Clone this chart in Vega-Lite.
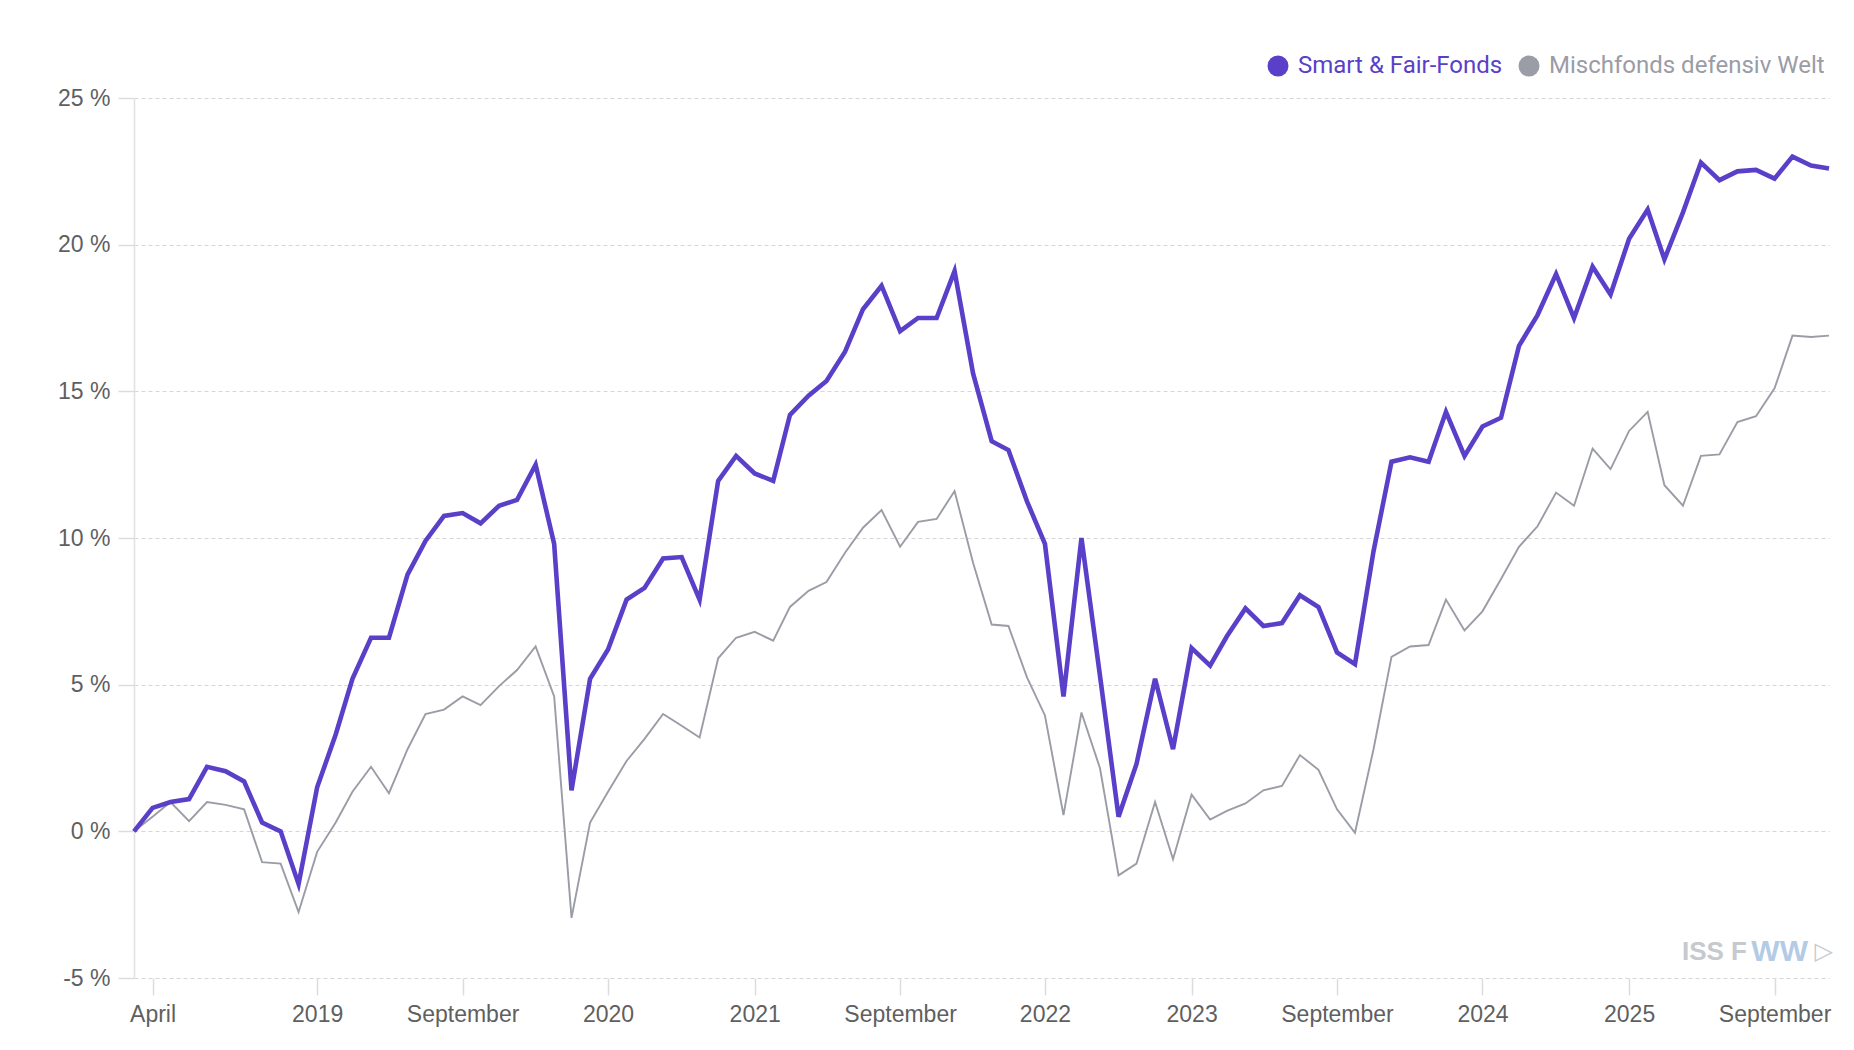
{
  "$schema": "https://vega.github.io/schema/vega-lite/v6.json",
  "width": 1695,
  "height": 880,
  "autosize": {"type": "none"},
  "padding": {"left": 134, "top": 98, "right": 25, "bottom": 72},
  "background": "white",
  "config": {"view": {"stroke": null}, "font": "Liberation Sans"},
  "data": {"values": [
    {"d":"2018-03-01","Smart & Fair-Fonds":0,"Mischfonds defensiv Welt":0},
    {"d":"2018-04-01","Smart & Fair-Fonds":0.8,"Mischfonds defensiv Welt":0.5},
    {"d":"2018-05-01","Smart & Fair-Fonds":1.0,"Mischfonds defensiv Welt":1.0},
    {"d":"2018-06-01","Smart & Fair-Fonds":1.1,"Mischfonds defensiv Welt":0.35},
    {"d":"2018-07-01","Smart & Fair-Fonds":2.2,"Mischfonds defensiv Welt":1.0},
    {"d":"2018-08-01","Smart & Fair-Fonds":2.05,"Mischfonds defensiv Welt":0.9},
    {"d":"2018-09-01","Smart & Fair-Fonds":1.7,"Mischfonds defensiv Welt":0.75},
    {"d":"2018-10-01","Smart & Fair-Fonds":0.3,"Mischfonds defensiv Welt":-1.05},
    {"d":"2018-11-01","Smart & Fair-Fonds":0.0,"Mischfonds defensiv Welt":-1.1},
    {"d":"2018-12-01","Smart & Fair-Fonds":-1.8,"Mischfonds defensiv Welt":-2.75},
    {"d":"2019-01-01","Smart & Fair-Fonds":1.5,"Mischfonds defensiv Welt":-0.7},
    {"d":"2019-02-01","Smart & Fair-Fonds":3.3,"Mischfonds defensiv Welt":0.3},
    {"d":"2019-03-01","Smart & Fair-Fonds":5.2,"Mischfonds defensiv Welt":1.35},
    {"d":"2019-04-01","Smart & Fair-Fonds":6.6,"Mischfonds defensiv Welt":2.2},
    {"d":"2019-05-01","Smart & Fair-Fonds":6.6,"Mischfonds defensiv Welt":1.3},
    {"d":"2019-06-01","Smart & Fair-Fonds":8.75,"Mischfonds defensiv Welt":2.8},
    {"d":"2019-07-01","Smart & Fair-Fonds":9.9,"Mischfonds defensiv Welt":4.0},
    {"d":"2019-08-01","Smart & Fair-Fonds":10.75,"Mischfonds defensiv Welt":4.15},
    {"d":"2019-09-01","Smart & Fair-Fonds":10.85,"Mischfonds defensiv Welt":4.6},
    {"d":"2019-10-01","Smart & Fair-Fonds":10.5,"Mischfonds defensiv Welt":4.3},
    {"d":"2019-11-01","Smart & Fair-Fonds":11.1,"Mischfonds defensiv Welt":4.95},
    {"d":"2019-12-01","Smart & Fair-Fonds":11.3,"Mischfonds defensiv Welt":5.5},
    {"d":"2020-01-01","Smart & Fair-Fonds":12.5,"Mischfonds defensiv Welt":6.3},
    {"d":"2020-02-01","Smart & Fair-Fonds":9.8,"Mischfonds defensiv Welt":4.6},
    {"d":"2020-03-01","Smart & Fair-Fonds":1.4,"Mischfonds defensiv Welt":-2.95},
    {"d":"2020-04-01","Smart & Fair-Fonds":5.2,"Mischfonds defensiv Welt":0.3},
    {"d":"2020-05-01","Smart & Fair-Fonds":6.2,"Mischfonds defensiv Welt":1.35},
    {"d":"2020-06-01","Smart & Fair-Fonds":7.9,"Mischfonds defensiv Welt":2.4},
    {"d":"2020-07-01","Smart & Fair-Fonds":8.3,"Mischfonds defensiv Welt":3.15},
    {"d":"2020-08-01","Smart & Fair-Fonds":9.3,"Mischfonds defensiv Welt":4.0},
    {"d":"2020-09-01","Smart & Fair-Fonds":9.35,"Mischfonds defensiv Welt":3.6},
    {"d":"2020-10-01","Smart & Fair-Fonds":7.9,"Mischfonds defensiv Welt":3.2},
    {"d":"2020-11-01","Smart & Fair-Fonds":11.95,"Mischfonds defensiv Welt":5.9},
    {"d":"2020-12-01","Smart & Fair-Fonds":12.8,"Mischfonds defensiv Welt":6.6},
    {"d":"2021-01-01","Smart & Fair-Fonds":12.2,"Mischfonds defensiv Welt":6.8},
    {"d":"2021-02-01","Smart & Fair-Fonds":11.95,"Mischfonds defensiv Welt":6.5},
    {"d":"2021-03-01","Smart & Fair-Fonds":14.2,"Mischfonds defensiv Welt":7.65},
    {"d":"2021-04-01","Smart & Fair-Fonds":14.85,"Mischfonds defensiv Welt":8.2},
    {"d":"2021-05-01","Smart & Fair-Fonds":15.35,"Mischfonds defensiv Welt":8.5},
    {"d":"2021-06-01","Smart & Fair-Fonds":16.35,"Mischfonds defensiv Welt":9.5},
    {"d":"2021-07-01","Smart & Fair-Fonds":17.8,"Mischfonds defensiv Welt":10.35},
    {"d":"2021-08-01","Smart & Fair-Fonds":18.6,"Mischfonds defensiv Welt":10.95},
    {"d":"2021-09-01","Smart & Fair-Fonds":17.05,"Mischfonds defensiv Welt":9.7},
    {"d":"2021-10-01","Smart & Fair-Fonds":17.5,"Mischfonds defensiv Welt":10.55},
    {"d":"2021-11-01","Smart & Fair-Fonds":17.5,"Mischfonds defensiv Welt":10.65},
    {"d":"2021-12-01","Smart & Fair-Fonds":19.1,"Mischfonds defensiv Welt":11.6},
    {"d":"2022-01-01","Smart & Fair-Fonds":15.6,"Mischfonds defensiv Welt":9.15},
    {"d":"2022-02-01","Smart & Fair-Fonds":13.3,"Mischfonds defensiv Welt":7.05},
    {"d":"2022-03-01","Smart & Fair-Fonds":13.0,"Mischfonds defensiv Welt":7.0},
    {"d":"2022-04-01","Smart & Fair-Fonds":11.25,"Mischfonds defensiv Welt":5.25},
    {"d":"2022-05-01","Smart & Fair-Fonds":9.8,"Mischfonds defensiv Welt":3.95},
    {"d":"2022-06-01","Smart & Fair-Fonds":4.6,"Mischfonds defensiv Welt":0.55},
    {"d":"2022-07-01","Smart & Fair-Fonds":10.0,"Mischfonds defensiv Welt":4.05},
    {"d":"2022-08-01","Smart & Fair-Fonds":5.3,"Mischfonds defensiv Welt":2.15},
    {"d":"2022-09-01","Smart & Fair-Fonds":0.5,"Mischfonds defensiv Welt":-1.5},
    {"d":"2022-10-01","Smart & Fair-Fonds":2.3,"Mischfonds defensiv Welt":-1.1},
    {"d":"2022-11-01","Smart & Fair-Fonds":5.2,"Mischfonds defensiv Welt":1.0},
    {"d":"2022-12-01","Smart & Fair-Fonds":2.8,"Mischfonds defensiv Welt":-0.95},
    {"d":"2023-01-01","Smart & Fair-Fonds":6.25,"Mischfonds defensiv Welt":1.25},
    {"d":"2023-02-01","Smart & Fair-Fonds":5.65,"Mischfonds defensiv Welt":0.4},
    {"d":"2023-03-01","Smart & Fair-Fonds":6.65,"Mischfonds defensiv Welt":0.7},
    {"d":"2023-04-01","Smart & Fair-Fonds":7.6,"Mischfonds defensiv Welt":0.95},
    {"d":"2023-05-01","Smart & Fair-Fonds":7.0,"Mischfonds defensiv Welt":1.4},
    {"d":"2023-06-01","Smart & Fair-Fonds":7.1,"Mischfonds defensiv Welt":1.55},
    {"d":"2023-07-01","Smart & Fair-Fonds":8.05,"Mischfonds defensiv Welt":2.6},
    {"d":"2023-08-01","Smart & Fair-Fonds":7.65,"Mischfonds defensiv Welt":2.1},
    {"d":"2023-09-01","Smart & Fair-Fonds":6.1,"Mischfonds defensiv Welt":0.75},
    {"d":"2023-10-01","Smart & Fair-Fonds":5.7,"Mischfonds defensiv Welt":-0.05},
    {"d":"2023-11-01","Smart & Fair-Fonds":9.55,"Mischfonds defensiv Welt":2.8},
    {"d":"2023-12-01","Smart & Fair-Fonds":12.6,"Mischfonds defensiv Welt":5.95},
    {"d":"2024-01-01","Smart & Fair-Fonds":12.75,"Mischfonds defensiv Welt":6.3},
    {"d":"2024-02-01","Smart & Fair-Fonds":12.6,"Mischfonds defensiv Welt":6.35},
    {"d":"2024-03-01","Smart & Fair-Fonds":14.3,"Mischfonds defensiv Welt":7.9},
    {"d":"2024-04-01","Smart & Fair-Fonds":12.8,"Mischfonds defensiv Welt":6.85},
    {"d":"2024-05-01","Smart & Fair-Fonds":13.8,"Mischfonds defensiv Welt":7.5},
    {"d":"2024-06-01","Smart & Fair-Fonds":14.1,"Mischfonds defensiv Welt":8.6},
    {"d":"2024-07-01","Smart & Fair-Fonds":16.55,"Mischfonds defensiv Welt":9.7},
    {"d":"2024-08-01","Smart & Fair-Fonds":17.6,"Mischfonds defensiv Welt":10.4},
    {"d":"2024-09-01","Smart & Fair-Fonds":19.0,"Mischfonds defensiv Welt":11.55},
    {"d":"2024-10-01","Smart & Fair-Fonds":17.5,"Mischfonds defensiv Welt":11.1},
    {"d":"2024-11-01","Smart & Fair-Fonds":19.25,"Mischfonds defensiv Welt":13.05},
    {"d":"2024-12-01","Smart & Fair-Fonds":18.3,"Mischfonds defensiv Welt":12.35},
    {"d":"2025-01-01","Smart & Fair-Fonds":20.2,"Mischfonds defensiv Welt":13.65},
    {"d":"2025-02-01","Smart & Fair-Fonds":21.2,"Mischfonds defensiv Welt":14.3},
    {"d":"2025-03-01","Smart & Fair-Fonds":19.5,"Mischfonds defensiv Welt":11.8},
    {"d":"2025-04-01","Smart & Fair-Fonds":21.1,"Mischfonds defensiv Welt":11.1},
    {"d":"2025-05-01","Smart & Fair-Fonds":22.8,"Mischfonds defensiv Welt":12.8},
    {"d":"2025-06-01","Smart & Fair-Fonds":22.2,"Mischfonds defensiv Welt":12.85},
    {"d":"2025-07-01","Smart & Fair-Fonds":22.5,"Mischfonds defensiv Welt":13.95},
    {"d":"2025-08-01","Smart & Fair-Fonds":22.55,"Mischfonds defensiv Welt":14.15},
    {"d":"2025-09-01","Smart & Fair-Fonds":22.25,"Mischfonds defensiv Welt":15.1},
    {"d":"2025-10-01","Smart & Fair-Fonds":23.0,"Mischfonds defensiv Welt":16.9},
    {"d":"2025-11-01","Smart & Fair-Fonds":22.7,"Mischfonds defensiv Welt":16.85},
    {"d":"2025-12-01","Smart & Fair-Fonds":22.6,"Mischfonds defensiv Welt":16.9}
  ]},
  "layer": [
    {
      "transform": [
        {"fold": ["Smart & Fair-Fonds", "Mischfonds defensiv Welt"], "as": ["series", "value"]}
      ],
      "encoding": {
        "x": {
          "field": "d", "type": "temporal",
          "scale": {"type": "utc", "nice": false, "padding": 0},
          "axis": {
            "orient": "bottom",
            "title": null,
            "values": [
              {"year": 2018, "month": 4, "date": 1, "utc": true},
              {"year": 2019, "month": 1, "date": 1, "utc": true},
              {"year": 2019, "month": 9, "date": 1, "utc": true},
              {"year": 2020, "month": 5, "date": 1, "utc": true},
              {"year": 2021, "month": 1, "date": 1, "utc": true},
              {"year": 2021, "month": 9, "date": 1, "utc": true},
              {"year": 2022, "month": 5, "date": 1, "utc": true},
              {"year": 2023, "month": 1, "date": 1, "utc": true},
              {"year": 2023, "month": 9, "date": 1, "utc": true},
              {"year": 2024, "month": 5, "date": 1, "utc": true},
              {"year": 2025, "month": 1, "date": 1, "utc": true},
              {"year": 2025, "month": 9, "date": 1, "utc": true}
            ],
            "labelExpr": "utcmonth(datum.value) == 3 ? 'April' : (utcmonth(datum.value) == 8 ? 'September' : utcFormat(datum.value, '%Y'))",
            "domain": false,
            "grid": false,
            "ticks": true,
            "tickColor": "#dcdcdc",
            "tickSize": 17,
            "tickWidth": 1.5,
            "labelFont": "Liberation Sans",
            "labelFontSize": 23,
            "labelColor": "#5f5f5f",
            "labelPadding": 8,
            "labelFlush": false,
            "labelOverlap": false
          }
        },
        "y": {
          "field": "value", "type": "quantitative",
          "scale": {"domain": [-5, 25], "nice": false, "zero": false},
          "axis": {
            "orient": "left",
            "title": null,
            "values": [-5, 0, 5, 10, 15, 20, 25],
            "labelExpr": "datum.value + ' %'",
            "grid": true,
            "gridDash": [4, 3],
            "gridColor": "#d6d6d6",
            "gridWidth": 1.2,
            "domain": true,
            "domainColor": "#e0e0e0",
            "domainWidth": 1.5,
            "tickColor": "#dcdcdc",
            "tickSize": 16,
            "tickWidth": 1.5,
            "labelPadding": 8,
            "labelFont": "Liberation Sans",
            "labelFontSize": 23,
            "labelColor": "#5f5f5f"
          }
        },
        "color": {
          "field": "series", "type": "nominal",
          "scale": {"domain": ["Smart & Fair-Fonds", "Mischfonds defensiv Welt"], "range": ["#5a3fc9", "#9a9ca6"]},
          "legend": {
            "orient": "none",
            "legendX": 1132,
            "legendY": -44,
            "direction": "horizontal",
            "title": null,
            "padding": 0,
            "symbolType": "circle",
            "symbolSize": 440,
            "symbolStrokeWidth": 0,
            "labelFont": "Roboto",
            "labelFontSize": 24,
            "labelOffset": 8,
            "columnPadding": 14,
            "labelLimit": 500,
            "encode": {
              "symbols": {"update": {"fill": {"scale": "color", "field": "value"}, "stroke": {"value": "transparent"}, "opacity": {"value": 1}}},
              "labels": {"update": {"fill": {"scale": "color", "field": "value"}}}
            }
          }
        }
      },
      "layer": [
        {
          "transform": [{"filter": "datum.series === 'Mischfonds defensiv Welt'"}],
          "mark": {"type": "line", "strokeWidth": 1.9}
        },
        {
          "transform": [{"filter": "datum.series === 'Smart & Fair-Fonds'"}],
          "mark": {"type": "line", "strokeWidth": 4.6, "strokeJoin": "miter"}
        }
      ]
    },
    {
      "data": {"values": [{"part": "ISS F"}]},
      "mark": {"type": "text", "baseline": "middle", "align": "right", "fontSize": 26, "fontWeight": "bold", "font": "Liberation Sans", "dx": -82},
      "encoding": {
        "x": {"datum": {"year": 2025, "month": 12, "date": 1, "utc": true}, "type": "temporal"},
        "y": {"datum": -4.1},
        "text": {"field": "part", "type": "nominal"},
        "color": {"value": "#c6c9ce"}
      }
    },
    {
      "data": {"values": [{"part": "WW"}]},
      "mark": {"type": "text", "baseline": "middle", "align": "right", "fontSize": 30, "fontWeight": "bold", "font": "Liberation Sans", "dx": -21},
      "encoding": {
        "x": {"datum": {"year": 2025, "month": 12, "date": 1, "utc": true}, "type": "temporal"},
        "y": {"datum": -4.1},
        "text": {"field": "part", "type": "nominal"},
        "color": {"value": "#b4cbe6"}
      }
    },
    {
      "data": {"values": [{"part": "\u25b7"}]},
      "mark": {"type": "text", "baseline": "middle", "align": "right", "fontSize": 24, "font": "DejaVu Sans", "dx": 4},
      "encoding": {
        "x": {"datum": {"year": 2025, "month": 12, "date": 1, "utc": true}, "type": "temporal"},
        "y": {"datum": -4.1},
        "text": {"field": "part", "type": "nominal"},
        "color": {"value": "#c6c9ce"}
      }
    }
  ]
}
